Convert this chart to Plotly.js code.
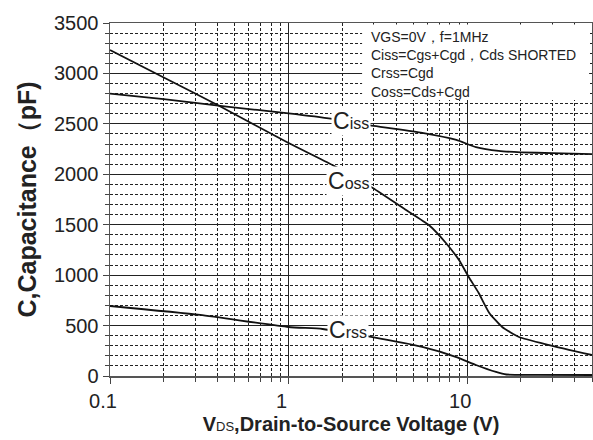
<!DOCTYPE html>
<html>
<head>
<meta charset="utf-8">
<script src="https://cdn.plot.ly/plotly-3.0.1.min.js"></script>
<style>html,body{margin:0;padding:0;background:#fff;}#chart{width:593px;height:440px;}</style>
</head>
<body>
<div id="chart"></div>
<script>
// ---- data ----
const vdsIss  = [0.1, 0.2, 0.45, 1.0, 1.76, 3.0, 5.6, 8.7, 11.2, 15, 20, 30, 50];
const ciss    = [2800, 2745, 2670, 2605, 2550, 2480, 2410, 2340, 2270, 2232, 2218, 2210, 2200];

const vdsOss  = [0.1, 0.2, 0.41, 1.0, 1.76, 2.96, 4.55, 6.1, 7.6, 9.0, 10.2, 11.6, 13.3, 15.7, 19.5, 28.8, 50];
const coss    = [3232, 2960, 2677, 2310, 2092, 1864, 1646, 1497, 1319, 1150, 982, 823, 625, 486, 387, 307, 208];

const vdsRss  = [0.1, 0.32, 1.0, 1.55, 2.9, 5.6, 8.7, 11.2, 14.5, 16.6, 25, 50];
const crss    = [694, 605, 486, 466, 387, 288, 188, 109, 40, 15, 12, 10];

const xTickVals  = [0.1, 1, 10];
const xTickText  = ['0.1', '1', '10'];
const xMinorVals = [0.2,0.3,0.4,0.5,0.6,0.7,0.8,0.9,2,3,4,5,6,7,8,9,20,30,40,50];

const noteLines = ['VGS=0V\uFF0Cf=1MHz', 'Ciss=Cgs+Cgd\uFF0CCds SHORTED', 'Crss=Cgd', 'Coss=Cds+Cgd'];
const curveLabels = [
  {main: 'C', sub: 'iss', x: 2.25, y: 2530},
  {main: 'C', sub: 'oss', x: 2.19, y: 1935},
  {main: 'C', sub: 'rss', x: 2.14, y: 455}
];

const FONT = 'Arial, "Liberation Sans", sans-serif';
const lineStyle = {color: '#111', width: 1.8, shape: 'spline', smoothing: 0.5};

const traces = [
  {x: vdsIss, y: ciss, mode: 'lines', line: lineStyle, name: 'Ciss', hoverinfo: 'skip'},
  {x: vdsOss, y: coss, mode: 'lines', line: lineStyle, name: 'Coss', hoverinfo: 'skip'},
  {x: vdsRss, y: crss, mode: 'lines', line: lineStyle, name: 'Crss', hoverinfo: 'skip'}
];

const annotations = curveLabels.map(l => ({
  xref: 'x', yref: 'y', x: Math.log10(l.x), y: l.y,
  text: l.main + '<span style="font-size:16px">' + l.sub + '</span>',
  showarrow: false, xanchor: 'center', yanchor: 'middle',
  font: {family: FONT, size: 23, color: '#222'},
  bgcolor: '#fff', borderpad: 1
}));
annotations.push({
  xref: 'paper', yref: 'paper', x: 0.537, y: 0.989,
  xanchor: 'left', yanchor: 'top', align: 'left', showarrow: false,
  text: noteLines.join('<br>'),
  font: {family: FONT, size: 14, color: '#222'}
});

const layout = {
  width: 593, height: 440,
  margin: {l: 110, r: 1, t: 23, b: 64},
  paper_bgcolor: '#fff', plot_bgcolor: '#fff',
  showlegend: false,
  font: {family: FONT, color: '#222'},
  xaxis: {
    type: 'log', range: [-1, Math.log10(50)],
    tickvals: xTickVals, ticktext: xTickText,
    ticks: 'outside', ticklen: 6, tickcolor: '#444',
    ticklabelshift: -7,
    tickfont: {family: FONT, size: 20, color: '#222'},
    showgrid: true, gridcolor: '#222', gridwidth: 1,
    minor: {tickvals: xMinorVals, showgrid: true, gridcolor: '#222', griddash: '3px,2px', gridwidth: 1,
            ticks: 'outside', ticklen: 4, tickcolor: '#444'},
    showline: true, mirror: true, linecolor: '#555', linewidth: 1.5,
    zeroline: false,
    title: {text: 'V<span style="font-size:13px;font-weight:normal">DS</span>,Drain-to-Source Voltage (V)',
            font: {family: FONT, size: 20, color: '#222', weight: 'bold'}, standoff: 6}
  },
  yaxis: {
    range: [0, 3500], dtick: 500, tick0: 0,
    ticks: 'outside', ticklen: 6, tickcolor: '#444',
    tickfont: {family: FONT, size: 20, color: '#222'},
    showgrid: true, gridcolor: '#222', gridwidth: 1,
    minor: {dtick: 100, showgrid: true, gridcolor: '#222', griddash: '3px,2px', gridwidth: 1,
            ticks: 'outside', ticklen: 4, tickcolor: '#444'},
    showline: true, mirror: true, linecolor: '#555', linewidth: 1.5,
    zeroline: false,
    title: {text: 'C,Capacitance\uFF08pF)', font: {family: FONT, size: 25, color: '#222', weight: 'bold'}, standoff: 10}
  },
  shapes: [{
    type: 'rect', xref: 'paper', yref: 'paper', x0: 0.523, x1: 0.994, y0: 0.782, y1: 0.996,
    fillcolor: '#fff', line: {width: 0}, layer: 'above'
  }],
  annotations: annotations
};

Plotly.newPlot('chart', traces, layout, {staticPlot: true, displayModeBar: false});
</script>
</body>
</html>
